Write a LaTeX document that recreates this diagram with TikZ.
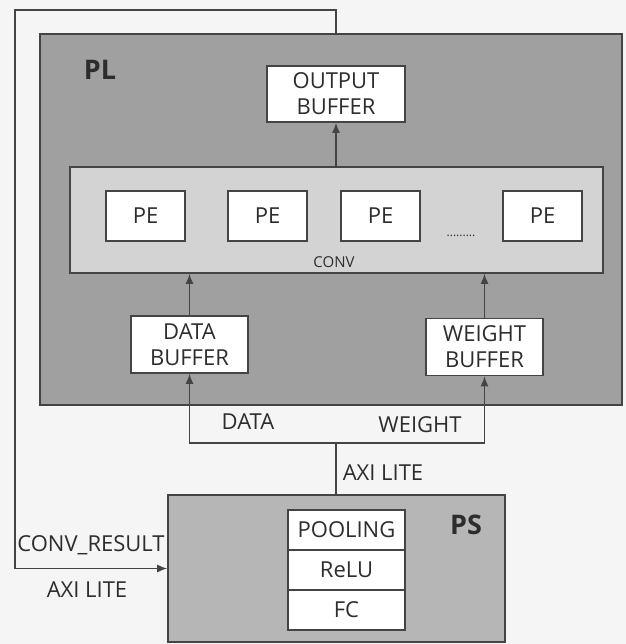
\documentclass[tikz,border=0pt]{standalone}
\usepackage{fontspec}
\setmainfont{Open Sans}
\usetikzlibrary{arrows.meta,positioning,fit}
\definecolor{plgray}{RGB}{160,160,160}
\definecolor{psgray}{RGB}{182,182,182}
\definecolor{convgray}{RGB}{211,211,211}
\definecolor{bggray}{RGB}{245,245,245}
\definecolor{linegray}{RGB}{68,68,68}
\definecolor{textgray}{RGB}{45,45,45}

\begin{document}
\begin{tikzpicture}[x=0.5pt, y=-0.5pt,
    box/.style={rectangle, draw=linegray, fill=white, line width=0.8pt, align=center, inner sep=0pt, text=textgray, font=\fontsize{11}{13}\selectfont},
    region/.style={rectangle, draw=linegray, line width=1pt, inner sep=0pt},
    lbl/.style={inner sep=0pt, text=textgray, font=\fontsize{11}{13}\selectfont},
    title/.style={inner sep=0pt, text=textgray, font=\bfseries\fontsize{13.5}{15}\selectfont},
    arrow/.style={-{Latex[length=5pt,width=4pt]}, draw=linegray, line width=0.7pt},
    wire/.style={draw=linegray, line width=0.7pt}
]
\fill[bggray] (0,0) rectangle (626,644);
\useasboundingbox (0,0) rectangle (626,644);

% PL side
\node[region, fill=plgray, fit={(40,34) (622,405)}] (pl) {};
\node[title] (pltitle) at (100,70) {PL};
\node[box, minimum width=69pt, minimum height=28pt] (outbuf) at (336,94) {OUTPUT\\BUFFER};
\node[region, fill=convgray, line width=0.8pt, fit={(70,167) (603,273)}] (conv) {};
\node[lbl, font=\fontsize{7.5}{9}\selectfont] (convtitle) at (334,262) {CONV};
\node[box, minimum width=39.5pt, minimum height=25pt] (pe1) at (145.5,216) {PE};
\node[box, minimum width=39.5pt, minimum height=25pt] (pe2) at (267.5,216) {PE};
\node[box, minimum width=39.5pt, minimum height=25pt] (pe3) at (380.5,216) {PE};
\node[box, minimum width=39.5pt, minimum height=25pt] (pe4) at (542.5,216) {PE};
\node[lbl, font=\fontsize{6}{7}\selectfont] (dots) at (461,236) {.........};
\node[box, minimum width=58.5pt, minimum height=28.5pt] (databuf) at (189.5,344.5) {DATA\\BUFFER};
\node[box, minimum width=58.5pt, minimum height=28.5pt] (weightbuf) at (484.5,347) {WEIGHT\\BUFFER};

\draw[arrow] (conv.north -| outbuf) -- (outbuf.south);
\draw[arrow] (databuf.north) -- (databuf.north |- conv.south);
\draw[arrow] (weightbuf.north) -- (weightbuf.north |- conv.south);

% PS side
\node[region, fill=psgray, line width=0.8pt, fit={(168,495) (505,642)}] (ps) {};
\node[title] (pstitle) at (466,525) {PS};
\node[box, outer sep=0pt, minimum width=58.5pt, minimum height=20pt] (pool) at (346.5,530) {POOLING};
\node[box, outer sep=0pt, minimum width=58.5pt, minimum height=20pt, below=0pt of pool] (relu) {ReLU};
\node[box, outer sep=0pt, minimum width=58.5pt, minimum height=20pt, below=0pt of relu] (fc) {FC};

% buses
\coordinate (bus) at (336,443);
\coordinate (ret) at (15,10);
\draw[wire] (ps.north -| bus) -- (bus);
\draw[arrow] (bus) -| (databuf.south);
\draw[arrow] (bus) -| (weightbuf.south);
\draw[arrow] (outbuf |- pl.north) |- (ret) |- (ps.west);

\node[lbl] (datalbl) at (248,422) {DATA};
\node[lbl] (weightlbl) at (420,425) {WEIGHT};
\node[lbl] (axitop) at (383,473) {AXI LITE};
\node[lbl] (resultlbl) at (91,545) {CONV\_RESULT};
\node[lbl] (axibot) at (87,590) {AXI LITE};
\end{tikzpicture}
\end{document}
